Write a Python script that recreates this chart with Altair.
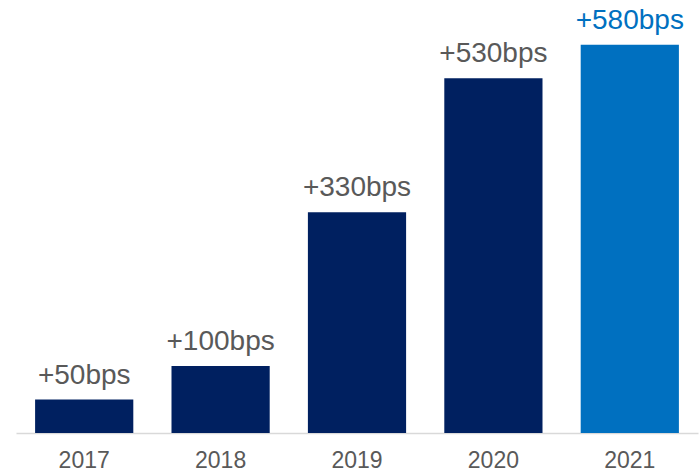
import altair as alt
import pandas as pd

years = ["2017", "2018", "2019", "2020", "2021"]
values = [50, 100, 330, 530, 580]
labels = ["+50bps", "+100bps", "+330bps", "+530bps", "+580bps"]
highlight = ["base", "base", "base", "base", "latest"]

df = pd.DataFrame({"year": years, "value": values, "label": labels, "group": highlight})

xenc = alt.X("year:N", sort=years,
             scale=alt.Scale(paddingInner=0.28, paddingOuter=0.14),
             axis=alt.Axis(title=None, labelAngle=0, labelFont="Liberation Sans",
                           labelFontSize=23, labelColor="#595959", labelPadding=16,
                           ticks=False, domainColor="#D9D9D9", domainWidth=1.5))
yenc = alt.Y("value:Q", scale=alt.Scale(domain=[0, 647], nice=False, zero=True), axis=None)

color_scale = alt.Scale(domain=["base", "latest"], range=["#002060", "#0070C0"])

bars = alt.Chart(df).mark_bar().encode(
    x=xenc, y=yenc,
    color=alt.Color("group:N", scale=color_scale, legend=None),
)

text = alt.Chart(df).mark_text(baseline="alphabetic", dy=-16, font="Liberation Sans", fontSize=28).encode(
    x=alt.X("year:N", sort=years), y="value:Q", text="label:N",
    color=alt.Color("group:N", scale=alt.Scale(domain=["base", "latest"], range=["#595959", "#0070C0"]), legend=None),
)

chart = alt.layer(bars, text).resolve_scale(color="independent").properties(
    width=682, height=433,
    autosize=alt.AutoSizeParams(type="none"),
    padding={"left": 16, "top": 0, "right": 2, "bottom": 42},
).configure_view(stroke=None).configure_axis(grid=False)

chart.save("out.html", embed_options={"renderer": "svg", "actions": False})
